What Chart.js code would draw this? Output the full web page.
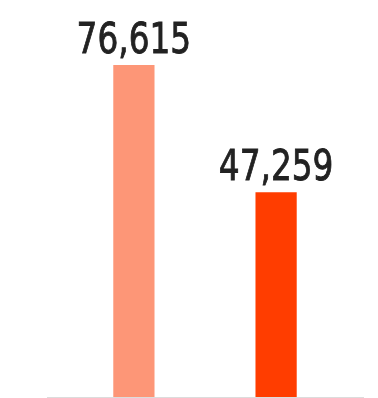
<!DOCTYPE html>
<html>
<head>
  <meta charset="UTF-8">
  <title>Comparison</title>
  <script src="https://cdn.jsdelivr.net/npm/chart.js"></script>
  <style>
    body { margin: 0; background: #fff; }
    #wrap { width: 378px; height: 398px; }
  </style>
</head>
<body>
<div id="wrap"><canvas id="chart"></canvas></div>
<script>
  const categories = ["Previous", "Current"];
  const values = [76615, 47259];
  const colors = ["#fd9677", "#ff3d00"];

  // value text above each bar, squeezed to a condensed look
  const valueLabels = {
    id: "valueLabels",
    afterDatasetsDraw(chart) {
      const ctx = chart.ctx;
      const squeeze = 0.78;
      ctx.save();
      ctx.font = "42px 'DejaVu Sans', sans-serif";
      ctx.fillStyle = "#222";
      ctx.strokeStyle = "#222";
      ctx.lineWidth = 0.9;
      ctx.textAlign = "center";
      ctx.textBaseline = "alphabetic";
      chart.data.datasets.forEach((ds, i) => {
        const bar = chart.getDatasetMeta(i).data[0];
        const txt = ds.data[0].toLocaleString("en-US");
        ctx.save();
        ctx.translate(bar.x, bar.y - 12);
        ctx.scale(squeeze, 1);
        ctx.fillText(txt, 0, 0);
        ctx.strokeText(txt, 0, 0);
        ctx.restore();
      });
      ctx.restore();
    }
  };

  new Chart(document.getElementById("chart"), {
    type: "bar",
    data: {
      labels: [""],
      datasets: categories.map((c, i) => ({
        label: c,
        data: [values[i]],
        backgroundColor: colors[i],
        categoryPercentage: 0.9,
        barPercentage: 0.29
      }))
    },
    options: {
      responsive: true,
      maintainAspectRatio: false,
      animation: false,
      layout: { padding: { left: 47, right: 15, top: 20, bottom: 1 } },
      plugins: { legend: { display: false }, tooltip: { enabled: false } },
      scales: {
        x: {
          ticks: { display: false },
          grid: { display: false, drawTicks: false },
          border: { color: "#dcdcdc" }
        },
        y: { display: false, min: 0, max: 87000 }
      }
    },
    plugins: [valueLabels]
  });
</script>
</body>
</html>
